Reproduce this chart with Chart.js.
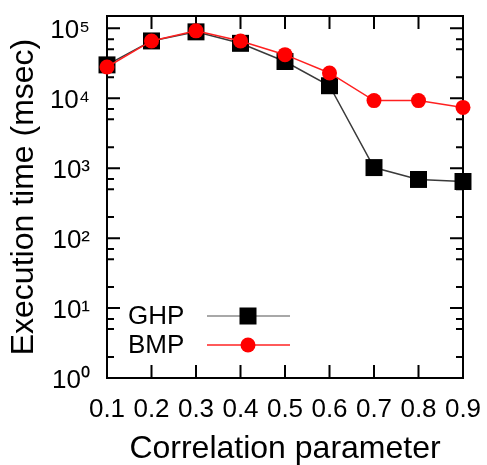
<!DOCTYPE html>
<html lang="en">

<head>
    <meta charset="UTF-8">
    <title>Execution time vs correlation parameter</title>
    <script src="https://cdn.jsdelivr.net/npm/chart.js"></script>
    <style>
        body {
            margin: 0;
            background: #fff;
        }

        .chart-container {
            width: 487px;
            height: 465px;
        }
    </style>
</head>

<body>
    <div class="chart-container">
        <canvas id="timeChart"></canvas>
    </div>
    <script>
        // Data
        const correlation = ['0.1', '0.2', '0.3', '0.4', '0.5', '0.6', '0.7', '0.8', '0.9'];
        const ghpTime = [30000, 66000, 89000, 61000, 33500, 15100, 1020, 690, 645];
        const bmpTime = [28000, 66000, 92000, 66000, 42000, 23000, 9250, 9250, 7400];
        const seriesNames = ['GHP', 'BMP'];

        const FONT = "'Liberation Sans', Arial, sans-serif";
        const sup = { '0': '\u2070', '1': '\u00b9', '2': '\u00b2', '3': '\u00b3', '4': '\u2074', '5': '\u2075' };

        function isPow10(v) {
            const l = Math.log10(v);
            return Math.abs(l - Math.round(l)) < 1e-9;
        }

        // frame + inward ticks on all four sides (gnuplot style)
        const framePlugin = {
            id: 'frame',
            beforeDatasetsDraw(chart) {
                const { ctx, chartArea: a, scales } = chart;
                const x = scales.x, y = scales.y;
                ctx.save();
                ctx.strokeStyle = '#000';
                ctx.lineWidth = 2;
                ctx.strokeRect(a.left, a.top, a.right - a.left, a.bottom - a.top);
                ctx.beginPath();
                // x ticks
                correlation.forEach((c, i) => {
                    if (i === 0 || i === correlation.length - 1) return;
                    const px = x.getPixelForValue(i);
                    ctx.moveTo(px, a.bottom); ctx.lineTo(px, a.bottom - 13);
                    ctx.moveTo(px, a.top); ctx.lineTo(px, a.top + 13);
                });
                // y ticks, majors and a few minors per decade
                for (let e = 0; e <= 5; e++) {
                    [1, 2, 5, 7].forEach(m => {
                        const v = m * Math.pow(10, e);
                        if (v <= y.min || v > y.max) return;
                        const py = y.getPixelForValue(v);
                        const len = m === 1 ? 13 : 7;
                        ctx.moveTo(a.left, py); ctx.lineTo(a.left + len, py);
                        ctx.moveTo(a.right, py); ctx.lineTo(a.right - len, py);
                    });
                }
                ctx.stroke();
                ctx.restore();
            },
            afterDraw(chart) {
                // key in the lower left corner of the plot
                const { ctx } = chart;
                const rows = [
                    { name: seriesNames[0], y: 316, line: '#a8a8a8', style: 'rect' },
                    { name: seriesNames[1], y: 345, line: '#ff5a5a', style: 'circle' }
                ];
                ctx.save();
                ctx.font = '26px ' + FONT;
                ctx.textBaseline = 'middle';
                ctx.textAlign = 'left';
                rows.forEach(r => {
                    ctx.fillStyle = '#000';
                    ctx.fillText(r.name, 128, r.y + 1);
                    ctx.strokeStyle = r.line;
                    ctx.lineWidth = 2;
                    ctx.beginPath();
                    ctx.moveTo(207, r.y); ctx.lineTo(290, r.y);
                    ctx.stroke();
                    if (r.style === 'rect') {
                        ctx.fillStyle = '#000';
                        ctx.fillRect(248 - 8.5, r.y - 8.5, 17, 17);
                    } else {
                        ctx.fillStyle = '#ff0000';
                        ctx.beginPath();
                        ctx.arc(248, r.y, 7.5, 0, Math.PI * 2);
                        ctx.fill();
                    }
                });
                ctx.restore();
            }
        };

        const ctx = document.getElementById('timeChart').getContext('2d');
        const timeChart = new Chart(ctx, {
            type: 'line',
            data: {
                labels: correlation,
                datasets: [
                    {
                        label: seriesNames[0], data: ghpTime, order: 1, clip: false,
                        borderColor: '#3a3a3a', borderWidth: 1.5,
                        pointStyle: 'rect', pointRadius: 12, pointBackgroundColor: '#000',
                        pointBorderWidth: 0, tension: 0
                    },
                    {
                        label: seriesNames[1], data: bmpTime, order: 0, clip: false,
                        borderColor: '#ff2020', borderWidth: 1.5,
                        pointStyle: 'circle', pointRadius: 7.5, pointBackgroundColor: '#ff0000',
                        pointBorderWidth: 0, tension: 0
                    }
                ]
            },
            options: {
                responsive: true,
                maintainAspectRatio: false,
                animation: false,
                layout: { padding: { top: 16, right: 24, left: 0, bottom: 0 } },
                plugins: { legend: { display: false }, tooltip: { enabled: false } },
                scales: {
                    x: {
                        grid: { display: false, drawTicks: false },
                        border: { display: false },
                        ticks: {
                            color: '#000', font: { family: FONT, size: 26 },
                            padding: 16, maxRotation: 0, autoSkip: false
                        },
                        title: {
                            display: true, text: 'Correlation parameter', color: '#000',
                            font: { family: FONT, size: 32 }, padding: { top: 0, bottom: -3 }
                        },
                        afterFit(s) {
                            s.height = 87;
                            s.paddingLeft = 0;
                            s.paddingRight = 0;
                        }
                    },
                    y: {
                        type: 'logarithmic',
                        min: 1,
                        max: 150000,
                        grid: { display: false, drawTicks: false },
                        border: { display: false },
                        ticks: {
                            color: '#000', font: { family: FONT, size: 26 },
                            padding: 17, autoSkip: false, labelOffset: 3,
                            callback: v => isPow10(v) ? '10' + sup[String(Math.round(Math.log10(v)))] : ''
                        },
                        title: {
                            display: true, text: 'Execution time (msec)', color: '#000',
                            font: { family: FONT, size: 32 }, padding: { top: 5, bottom: 0 }
                        },
                        afterFit(s) {
                            s.width = 107;
                            s.paddingTop = 0;
                            s.paddingBottom = 0;
                        }
                    }
                }
            },
            plugins: [framePlugin]
        });
    </script>
</body>

</html>
